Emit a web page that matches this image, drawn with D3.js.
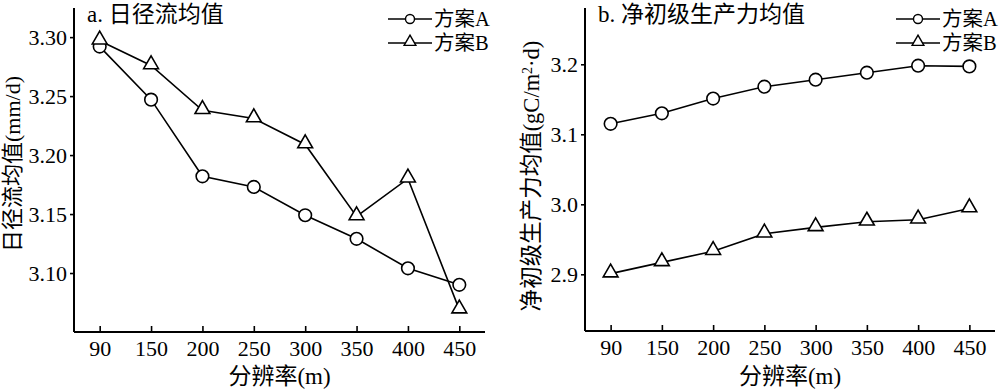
<!DOCTYPE html>
<html><head><meta charset="utf-8">
<script src="https://cdn.jsdelivr.net/npm/d3@7"></script>
<style>
body{margin:0;background:#fff;}
text{font-family:"Liberation Serif","Noto Sans CJK SC",serif;fill:#000;}
</style></head>
<body><svg id="c" width="1000" height="390"></svg>
<script>
const resolutions = ["90","150","200","250","300","350","400","450"];
const runoffA = [3.292,3.247,3.182,3.173,3.149,3.129,3.104,3.090];
const runoffB = [3.297,3.276,3.238,3.231,3.209,3.148,3.180,3.069];
const nppA = [3.115,3.130,3.151,3.168,3.178,3.188,3.198,3.197];
const nppB = [2.901,2.917,2.933,2.958,2.967,2.975,2.978,2.994];
const runoffTicks = [3.10,3.15,3.20,3.25,3.30];
const nppTicks = [2.9,3.0,3.1,3.2];
const seriesNames = ["方案A","方案B"];

const svg = d3.select("#c");

function panel(opt){
  const g = svg.append("g");
  const x = d3.scalePoint().domain(resolutions).range([opt.x0, opt.x1]).padding(0.5);
  const y = d3.scaleLinear().domain(opt.domain).range([opt.y1, opt.y0]);
  const xa = g.append("g").attr("transform",`translate(0,${opt.y1})`)
    .call(d3.axisBottom(x).tickSize(-6));
  xa.selectAll("text").attr("font-size",22).attr("dy",null).attr("y",24);
  const ya = g.append("g").attr("transform",`translate(${opt.x0},0)`)
    .call(d3.axisLeft(y).tickValues(opt.ticks).tickFormat(d3.format(opt.fmt)).tickSize(4).tickPadding(3));
  ya.selectAll("text").attr("font-size",22);
  g.selectAll(".domain").attr("stroke","#000").attr("stroke-width",2);
  g.selectAll(".tick line").attr("stroke","#000").attr("stroke-width",1.6);
  xa.select(".domain").attr("d",`M${opt.x0},0H${opt.x1}`);
  ya.select(".domain").attr("d",`M0,${opt.y0}V${opt.y1}`);

  const line = d3.line().x((d,i)=>x(resolutions[i])).y(d=>y(d));
  const tri = d3.symbol().type(d3.symbolTriangle).size(95);
  [opt.a, opt.b].forEach((vals,k)=>{
    g.append("path").datum(vals).attr("d",line).attr("fill","none").attr("stroke","#000").attr("stroke-width",1.6);
    if(k===0){
      g.selectAll(null).data(vals).enter().append("circle")
        .attr("cx",(d,i)=>x(resolutions[i])).attr("cy",d=>y(d)).attr("r",6.3)
        .attr("fill","#fff").attr("stroke","#000").attr("stroke-width",1.6);
    } else {
      g.selectAll(null).data(vals).enter().append("path")
        .attr("d",tri).attr("transform",(d,i)=>`translate(${x(resolutions[i])},${y(d)-1})`)
        .attr("fill","#fff").attr("stroke","#000").attr("stroke-width",1.6);
    }
  });
  g.append("text").attr("x",opt.x0+13).attr("y",22).attr("font-size",23).text(opt.title);
  g.append("text").attr("x",(opt.x0+opt.x1)/2).attr("y",384).attr("text-anchor","middle").attr("font-size",23).text("分辨率(m)");
  g.append("text").attr("transform",`translate(${opt.ylx},${opt.yly}) rotate(-90)`).attr("text-anchor","middle")
    .attr("dy","0.35em").attr("font-size",opt.ylfs).html(opt.ylabel);
  seriesNames.forEach((n,k)=>{
    const ly = 19 + k*24;
    const lg = g.append("g");
    lg.append("line").attr("x1",opt.lx).attr("x2",opt.lx+44).attr("y1",ly).attr("y2",ly).attr("stroke","#000").attr("stroke-width",1.6);
    if(k===0) lg.append("circle").attr("cx",opt.lx+22).attr("cy",ly).attr("r",4.5).attr("fill","#fff").attr("stroke","#000").attr("stroke-width",1.4);
    else lg.append("path").attr("d",d3.symbol().type(d3.symbolTriangle).size(60)).attr("transform",`translate(${opt.lx+22},${ly-1})`).attr("fill","#fff").attr("stroke","#000").attr("stroke-width",1.4);
    lg.append("text").attr("x",opt.lx+46).attr("y",ly).attr("dy","0.35em").attr("font-size",20.5).text(n);
  });
}

panel({x0:74,x1:485,y0:8,y1:332,domain:[3.05,3.3247],ticks:runoffTicks,fmt:".2f",
  a:runoffA,b:runoffB,title:"a. 日径流均值",ylabel:"日径流均值(mm/d)",ylx:12,yly:164,ylfs:22,lx:388});
panel({x0:585,x1:995,y0:8,y1:331,domain:[2.819,3.2804],ticks:nppTicks,fmt:".1f",
  a:nppA,b:nppB,title:"b. 净初级生产力均值",ylabel:"净初级生产力均值(gC/m<tspan baseline-shift='super' font-size='14'>2</tspan>·d)",ylx:531,yly:176,ylfs:22.5,lx:896});
</script></body></html>
